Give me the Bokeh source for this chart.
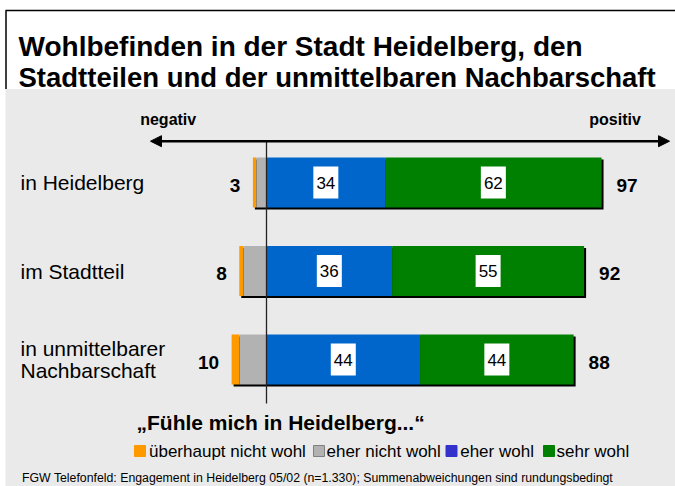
from bokeh.plotting import figure
from bokeh.models import ColumnDataSource, Range1d, Label, Arrow, NormalHead
from bokeh.core.properties import value
from bokeh.embed import file_html
from bokeh.resources import INLINE

# ---- data ----
categories = ["in Heidelberg", "im Stadtteil", "in unmittelbarer\nNachbarschaft"]
ueberhaupt_nicht_wohl = [1.0, 1.2, 2.3]
eher_nicht_wohl = [2.9, 6.6, 7.7]
eher_wohl = [34, 36, 44]
sehr_wohl = [62, 55, 44]
negativ_summe = [3, 8, 10]
positiv_summe = [97, 92, 88]
legend_labels = ["überhaupt nicht wohl", "eher nicht wohl", "eher wohl", "sehr wohl"]
title_lines = ["Wohlbefinden in der Stadt Heidelberg, den",
               "Stadtteilen und der unmittelbaren Nachbarschaft"]
question = "\u201eFühle mich in Heidelberg...\u201c"
footer = "FGW Telefonfeld: Engagement in Heidelberg 05/02 (n=1.330); Summenabweichungen sind rundungsbedingt"

ORANGE, GRAY, BLUE, GREEN = "#FF9900", "#B2B2B2", "#0066CC", "#008000"
LEG_COLORS = ["#FF9900", "#B2B2B2", "#3333CC", "#008000"]
FONT_NAME = "Liberation Sans"
FONT = value(FONT_NAME)

# ---- scale helpers (canvas pixel -> data) ----
K = 3.49      # px per percent
ZX = 266.0    # x of zero line
S = 88.5      # px per row
ZY = 182.0    # y of first row
W, H = 675, 486


def dx(px):
    return (px - ZX) / K


def dy(py):
    return (py - ZY) / S


def wx(n):
    return n / K


def hy(n):
    return n / S


p = figure(width=W, height=H, x_range=Range1d(dx(0), dx(W)),
           y_range=Range1d(dy(H), dy(0)), output_backend="svg",
           toolbar_location=None, min_border=0,
           x_axis_location=None, y_axis_location=None)
p.grid.visible = False
p.outline_line_color = None
p.background_fill_color = "white"
p.border_fill_color = "white"

# background panel and frame lines
p.quad(left=dx(5), right=dx(700), top=dy(88.5), bottom=dy(520),
       fill_color="#EAEAEA", line_color=None)
p.line([dx(5), dx(700)], [dy(10), dy(10)], line_color="black", line_width=1.5)
p.line([dx(5.5), dx(5.5)], [dy(10), dy(88.5)], line_color="black", line_width=1.5)

idx = list(range(len(categories)))
neg_total = [a + b for a, b in zip(ueberhaupt_nicht_wohl, eher_nicht_wohl)]
pos_total = [a + b for a, b in zip(eher_wohl, sehr_wohl)]

src = ColumnDataSource(dict(
    y=idx,
    cat=categories,
    o_left=[-t for t in neg_total],
    o_right=[-b for b in eher_nicht_wohl],
    g_left=[-b for b in eher_nicht_wohl],
    zero=[0] * len(idx),
    blue_r=eher_wohl,
    green_r=pos_total,
    sh_left=[-t + wx(2) for t in neg_total],
    sh_right=[t + wx(2) for t in pos_total],
    sh_y=[i + hy(2) for i in idx],
))

BH = hy(50)
# shadow
p.hbar(y="sh_y", left="sh_left", right="sh_right", height=BH, source=src,
       fill_color="black", line_color=None)
p.hbar(y="y", left="o_left", right="o_right", height=BH, source=src,
       fill_color=ORANGE, line_color=None)
p.hbar(y="y", left="g_left", right="zero", height=BH, source=src,
       fill_color=GRAY, line_color=None)
p.hbar(y="y", left="zero", right="blue_r", height=BH, source=src,
       fill_color=BLUE, line_color=None)
p.hbar(y="y", left="blue_r", right="green_r", height=BH, source=src,
       fill_color=GREEN, line_color=None)

# inner labels
inner = ColumnDataSource(dict(
    x=[v / 2 for v in eher_wohl] + [a + b / 2 for a, b in zip(eher_wohl, sehr_wohl)],
    y=idx + idx,
    t=[str(v) for v in eher_wohl] + [str(v) for v in sehr_wohl],
))
p.rect(x="x", y="y", width=wx(25), height=hy(32), source=inner,
       fill_color="white", line_color=None)
p.text(x="x", y="y", text="t", source=inner, text_font=FONT,
       text_font_size=value("17px"), text_align="center",
       text_baseline="middle", text_color="black")

# totals
tot = ColumnDataSource(dict(
    nx=[-t - wx(12.5) for t in neg_total],
    px=[t + wx(15) for t in pos_total],
    y=[i + hy(2.5) for i in idx],
    nt=[str(v) for v in negativ_summe],
    pt=[str(v) for v in positiv_summe],
))
p.text(x="nx", y="y", text="nt", source=tot, text_font=FONT,
       text_font_size=value("19px"), text_font_style="bold",
       text_align="right", text_baseline="middle", text_color="black")
p.text(x="px", y="y", text="pt", source=tot, text_font=FONT,
       text_font_size=value("19px"), text_font_style="bold",
       text_align="left", text_baseline="middle", text_color="black")

# row labels
rl = ColumnDataSource(dict(x=[dx(20)] * len(idx), y=idx, t=categories))
p.text(x="x", y="y", text="t", source=rl, text_font=FONT,
       text_font_size=value("21px"), text_align="left",
       text_baseline="middle", text_color="black", text_line_height=0.95)

# zero line
p.segment(x0=0, y0=dy(141), x1=0, y1=dy(403), line_color="#222222", line_width=1.3)

# arrow
head = dict(size=11, fill_color="black", line_color="black", line_width=1)
p.add_layout(Arrow(x_start=dx(150), y_start=dy(140.7), x_end=dx(669), y_end=dy(140.7),
                   start=NormalHead(**head), end=NormalHead(**head),
                   line_width=2.5, line_color="black"))


def lab(x, y, text, size, bold=False, baseline="middle", align="left"):
    p.add_layout(Label(x=x, y=y, text=text, text_font=FONT_NAME,
                       text_font_size=size, text_font_style="bold" if bold else "normal",
                       text_baseline=baseline, text_align=align, text_color="black"))


lab(dx(18), dy(45.5), title_lines[0], "28px", bold=True)
lab(dx(18), dy(77), title_lines[1], "27.5px", bold=True)
lab(dx(139.7), dy(119), "negativ", "16px", bold=True)
lab(dx(588.8), dy(119), "positiv", "16px", bold=True)
lab(dx(136), dy(422), question, "21px", bold=True)
lab(dx(21.5), dy(477), footer, "12.3px")

# legend
sq_left = [134, 313, 445.5, 543]
tx_left = [148.5, 326, 459.7, 556]
for i, (lbl, col) in enumerate(zip(legend_labels, LEG_COLORS)):
    p.rect(x=dx(sq_left[i] + 5.5), y=dy(450.5), width=wx(11), height=hy(11),
           fill_color=col, line_color="#808080" if i == 1 else col, line_width=1)
    lab(dx(tx_left[i]), dy(451), lbl, "17px")

open("out.html", "w").write(file_html(p, INLINE))
